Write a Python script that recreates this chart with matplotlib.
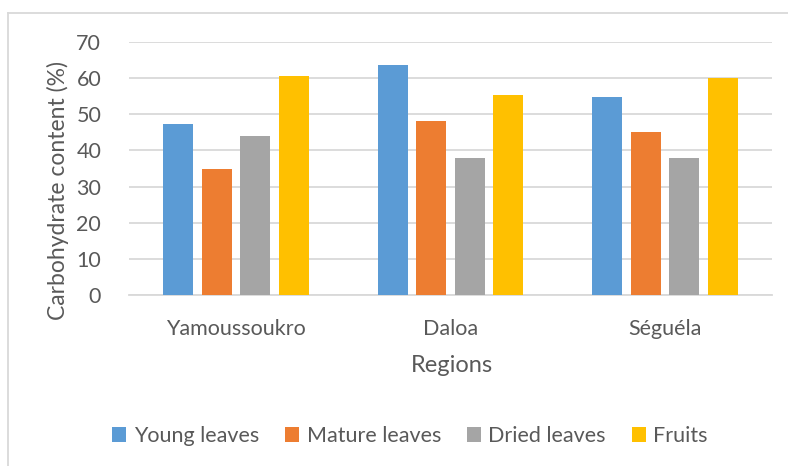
import numpy as np
import matplotlib
matplotlib.use("Agg")
import matplotlib.pyplot as plt
from matplotlib.lines import Line2D
from matplotlib.patches import Patch

# Teneur en glucides par région et par organe
regions = ["Yamoussoukro", "Daloa", "Séguéla"]
series_names = ["Young leaves", "Mature leaves", "Dried leaves", "Fruits"]
young_leaves = [47.4, 63.5, 54.7]
mature_leaves = [35.0, 48.1, 45.2]
dried_leaves = [44.0, 38.0, 38.0]
fruits = [60.6, 55.3, 60.0]
yticks = [0, 10, 20, 30, 40, 50, 60, 70]

colors = ["#5B9BD5", "#ED7D31", "#A5A5A5", "#FFC000"]
text_color = "#595959"
grid_color = "#D9D9D9"

plt.rcParams["font.family"] = ["Lato", "DejaVu Sans"]

W, H = 788, 466
fig = plt.figure(figsize=(W / 100, H / 100), dpi=100)

# zone de tracé (en pixels)
left, right, top, bottom = 129, 772, 42, 295
ax = fig.add_axes([left / W, 1 - bottom / H, (right - left) / W, (bottom - top) / H])

x = np.arange(len(regions))
step = 0.18
width = 0.14
all_series = [young_leaves, mature_leaves, dried_leaves, fruits]
for i, (vals, name, c) in enumerate(zip(all_series, series_names, colors)):
    ax.bar(x + (i - 1.5) * step, vals, width, color=c, label=name, zorder=3)

ax.set_xlim(-0.5, 2.5)
ax.set_ylim(0, 70)
ax.set_yticks(yticks)
ax.set_xticks(x)
ax.set_xticklabels(regions)
ax.grid(axis="y", color=grid_color, linewidth=1.3, zorder=0)
for s in ["top", "right", "left"]:
    ax.spines[s].set_visible(False)
ax.spines["bottom"].set_color(grid_color)
ax.spines["bottom"].set_linewidth(1.3)
ax.tick_params(axis="both", length=0, labelsize=15.5, labelcolor=text_color)
ax.tick_params(axis="y", pad=20)
ax.tick_params(axis="x", pad=17)

fig.text(58 / W, 1 - 191 / H, "Carbohydrate content (%)", rotation=90,
         ha="center", va="center", fontsize=16.5, color=text_color)
fig.text(452 / W, 1 - 365 / H, "Regions", ha="center", va="center",
         fontsize=17, color=text_color)

handles = [Patch(facecolor=c, edgecolor="none") for c in colors]
fig.legend(handles, series_names, loc="center", bbox_to_anchor=(410 / W, 1 - 436 / H),
           ncol=4, frameon=False, fontsize=15.5, labelcolor=text_color,
           handlelength=0.65, handleheight=0.65, handletextpad=0.35, columnspacing=1.2)

# cadre du graphique
fig.add_artist(Line2D([8 / W, 8 / W], [0, 1 - 13 / H], color=grid_color, linewidth=1.3))
fig.add_artist(Line2D([8 / W, 1], [1 - 13 / H, 1 - 13 / H], color=grid_color, linewidth=1.3))

fig.savefig("out.png", dpi=100)
